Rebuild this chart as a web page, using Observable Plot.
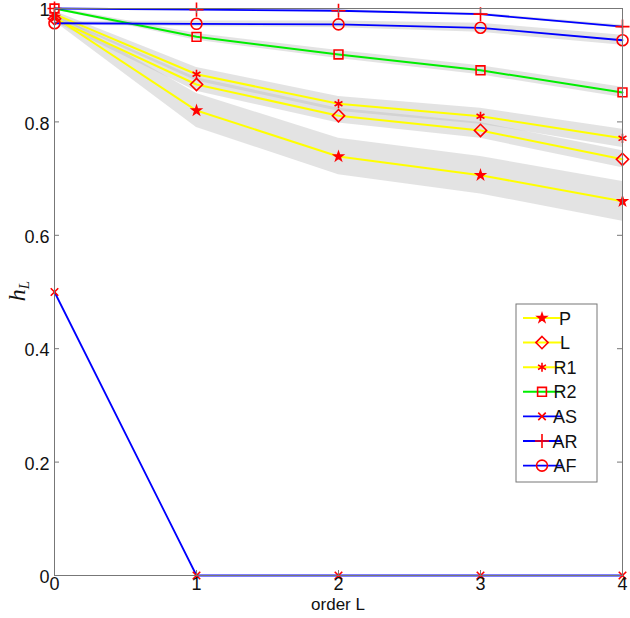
<!DOCTYPE html>
<html>
<head>
<meta charset="utf-8">
<script src="https://cdn.jsdelivr.net/npm/d3@7"></script>
<script src="https://cdn.jsdelivr.net/npm/@observablehq/plot@0.6"></script>
<style>
  html, body { margin: 0; padding: 0; background: #fff; }
  #chart { width: 630px; height: 618px; }
</style>
</head>
<body>
<div id="chart"></div>
<script>
// ---- data ----
const orders = [0, 1, 2, 3, 4];
const seriesNames = ["P", "L", "R1", "R2", "AS", "AR", "AF"];
const P  = [0.985, 0.820, 0.739, 0.706, 0.660];
const L  = [0.982, 0.866, 0.811, 0.785, 0.734];
const R1 = [0.990, 0.884, 0.832, 0.810, 0.771];
const R2 = [1.000, 0.950, 0.919, 0.891, 0.852];
const AS = [0.500, 0.000, 0.000, 0.000, 0.000];
const AR = [1.000, 0.998, 0.996, 0.990, 0.968];
const AF = [0.974, 0.973, 0.972, 0.966, 0.944];
// half-widths of the grey uncertainty bands
const bandP  = [0.008, 0.030, 0.032, 0.033, 0.035];
const bandL  = [0.006, 0.012, 0.013, 0.014, 0.015];
const bandR1 = [0.005, 0.012, 0.013, 0.014, 0.016];
const bandR2 = [0.002, 0.006, 0.007, 0.008, 0.009];
const bandAS = [0, 0, 0, 0, 0];
const bandAR = [0.000, 0.001, 0.002, 0.002, 0.003];
const bandAF = [0.003, 0.005, 0.006, 0.008, 0.009];
const yTicks = [0, 0.2, 0.4, 0.6, 0.8, 1];
const xTicks = [0, 1, 2, 3, 4];
const xLabel = "order L";

// ---- styles ----
const values = {P, L, R1, R2, AS, AR, AF};
const bands = {P: bandP, L: bandL, R1: bandR1, R2: bandR2, AS: bandAS, AR: bandAR, AF: bandAF};
const colors = {P: "#ffff00", L: "#ffff00", R1: "#ffff00", R2: "#00ee00", AS: "#0000ff", AR: "#0000ff", AF: "#0000ff"};
const widths = {P: 2, L: 2, R1: 2, R2: 2, AS: 1.8, AR: 1.8, AF: 1.8};
const symbols = {P: "star", L: "diamond2", R1: "asterisk", R2: "square2", AS: "times", AR: "plus", AF: "circle"};
const symFill = {P: "red", L: "none", R1: "none", R2: "none", AS: "none", AR: "none", AF: "none"};
const symR = {P: 2.7, L: 5.5, R1: 4.3, R2: 5.6, AS: 3.5, AR: 4.6, AF: 5.5};
const d3sym = {star: d3.symbolStar, diamond2: d3.symbolDiamond2, asterisk: d3.symbolAsterisk,
  square2: d3.symbolSquare2, times: d3.symbolTimes, plus: d3.symbolPlus, circle: d3.symbolCircle};

const W = 630, H = 618, mL = 54, mR = 8, mT = 8, mB = 43;
const innerW = W - mL - mR, innerH = H - mT - mB, tickLen = 5;

const rows = seriesNames.flatMap(s => orders.map((x, i) => ({s, x, y: values[s][i], e: bands[s][i]})));
const bandRows = rows.filter(d => ["P","L","R1","R2","AR","AF"].includes(d.s));
const font = "'Liberation Sans', Arial, sans-serif";

const marks = [
  Plot.areaY(bandRows, {x: "x", y1: d => d.y - d.e, y2: d => d.y + d.e, z: "s", fill: "#bdbdbd", fillOpacity: 0.42}),
  ...seriesNames.map(s => Plot.line(rows.filter(d => d.s === s), {x: "x", y: "y", stroke: colors[s], strokeWidth: widths[s]})),
  ...seriesNames.map(s => Plot.dot(rows.filter(d => d.s === s), {x: "x", y: "y", symbol: () => symbols[s], r: symR[s],
      stroke: "red", fill: symFill[s], strokeWidth: 1.6})),
  Plot.frame({stroke: "#777"}),
  // inward tick marks on all four sides
  Plot.tickY(yTicks, {y: d => d, insetRight: innerW - tickLen, stroke: "#777"}),
  Plot.tickY(yTicks, {y: d => d, insetLeft: innerW - tickLen, stroke: "#777"}),
  Plot.tickX(xTicks, {x: d => d, insetTop: innerH - tickLen, stroke: "#777"}),
  Plot.tickX(xTicks, {x: d => d, insetBottom: innerH - tickLen, stroke: "#777"}),
  Plot.axisX({anchor: "bottom", ticks: xTicks, tickSize: 0, tickPadding: 2, label: null, fontSize: 18, fill: "#111",
      tickFormat: d => String(d)}),
  Plot.axisY({anchor: "left", ticks: yTicks, tickSize: 0, tickPadding: 5, label: null, fontSize: 18, fill: "#111", dy: 2,
      tickFormat: d => String(+d.toFixed(1))})
];

const chart = Plot.plot({
  width: W,
  height: H,
  marginLeft: mL,
  marginRight: mR,
  marginTop: mT,
  marginBottom: mB,
  style: {fontFamily: font, background: "#fff", overflow: "visible"},
  x: {domain: [0, 4]},
  y: {domain: [0, 1]},
  marks
});
document.getElementById("chart").appendChild(chart);

// ---- axis titles and legend ----
const svg = d3.select(chart);
svg.append("text")
  .attr("x", 338).attr("y", 610)
  .attr("text-anchor", "middle")
  .attr("font-family", font)
  .attr("font-size", 17).attr("fill", "#111")
  .text(xLabel);

const yl = svg.append("text")
  .attr("transform", "translate(25,291) rotate(-90)")
  .attr("text-anchor", "middle")
  .attr("font-family", "'Liberation Serif', 'DejaVu Serif', serif")
  .attr("font-style", "italic")
  .attr("font-size", 24).attr("fill", "#111");
yl.append("tspan").text("h");
yl.append("tspan").attr("font-size", 15).attr("dy", 4).text("L");

const lg = svg.append("g");
lg.append("rect").attr("x", 516).attr("y", 304).attr("width", 81).attr("height", 178)
  .attr("fill", "#fff").attr("stroke", "#777");
seriesNames.forEach((s, i) => {
  const y = 318 + i * 24.6;
  lg.append("line").attr("x1", 523).attr("x2", 562).attr("y1", y).attr("y2", y)
    .attr("stroke", colors[s]).attr("stroke-width", widths[s]);
  lg.append("path")
    .attr("d", d3.symbol(d3sym[symbols[s]], Math.PI * symR[s] * symR[s])())
    .attr("transform", `translate(542,${y})`)
    .attr("stroke", "red").attr("fill", symFill[s]).attr("stroke-width", 1.6);
  lg.append("text").attr("x", 565).attr("y", y + 6.5)
    .attr("font-family", font)
    .attr("font-size", 18).attr("fill", "#111")
    .text(s);
});
</script>
</body>
</html>
